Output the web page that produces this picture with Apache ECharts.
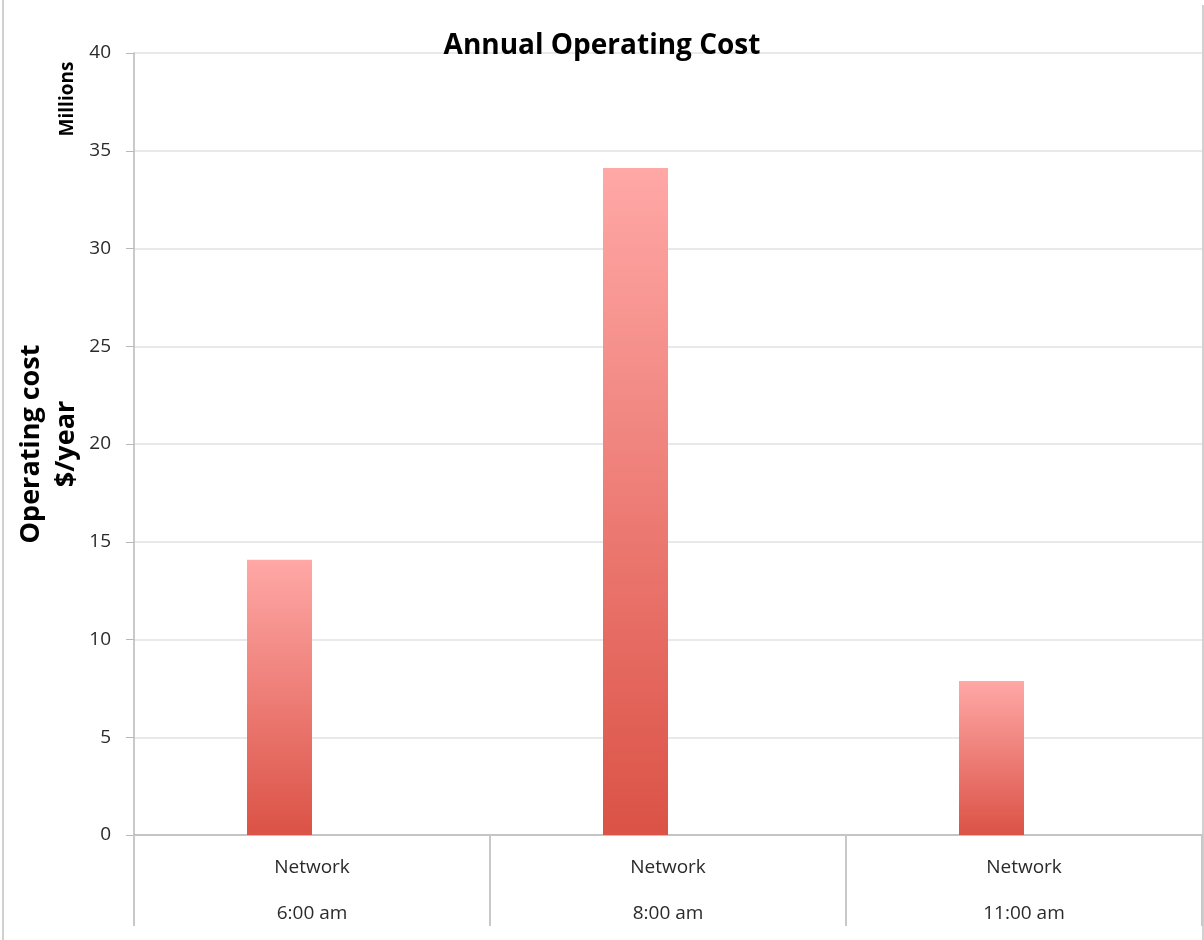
<!DOCTYPE html>
<html>
<head>
<meta charset="utf-8">
<script src="https://cdn.jsdelivr.net/npm/echarts@6/dist/echarts.min.js"></script>
<style>html,body{margin:0;padding:0;background:#fff}#c{width:1204px;height:940px}</style>
</head>
<body>
<div id="c"></div>
<script>
const categories = ['Network\n6:00 am', 'Network\n8:00 am', 'Network\n11:00 am'];
const operatingCost = [14.08, 34.12, 7.88];   // millions $/year
const placeholder = ['-', '-', '-'];            // empty second slot
const yTicks = { min: 0, max: 40, interval: 5 };

const FONT = '"Open Sans", "Liberation Sans", sans-serif';
const chart = echarts.init(document.getElementById('c'), null, { renderer: 'canvas' });
chart.setOption({
  animation: false,
  backgroundColor: '#ffffff',
  title: {
    text: 'Annual Operating Cost',
    left: 'center', top: 27,
    textStyle: { fontFamily: FONT, fontSize: 28, fontWeight: 'bold', color: '#000' }
  },
  grid: { left: 134, right: 2, top: 53, bottom: 105, containLabel: false, outerBoundsMode: 'none' },
  xAxis: {
    type: 'category',
    data: categories,
    axisLine: { lineStyle: { color: '#b8b8b8', width: 1.5 } },
    axisTick: { show: true, length: 91, alignWithLabel: false, lineStyle: { color: '#c8c8c8', width: 2 } },
    axisLabel: { fontFamily: FONT, fontSize: 19, color: '#2a2a2a', lineHeight: 46, margin: 10 }
  },
  yAxis: {
    type: 'value',
    min: yTicks.min, max: yTicks.max, interval: yTicks.interval,
    name: 'Operating cost\n$/year',
    nameLocation: 'middle', nameRotate: 90, nameGap: 50, nameMoveOverlap: false,
    nameTextStyle: { fontFamily: FONT, fontSize: 27, fontWeight: 'bold', color: '#000', lineHeight: 35 },
    axisLine: { show: true, lineStyle: { color: '#b8b8b8', width: 1.5 } },
    axisTick: { show: true, length: 8, lineStyle: { color: '#b8b8b8' } },
    axisLabel: { fontFamily: FONT, fontSize: 19, color: '#2a2a2a', margin: 23 },
    splitLine: { lineStyle: { color: '#e2e2e2', width: 1.5 } }
  },
  series: [
    {
      type: 'bar', data: operatingCost, barWidth: 65, barGap: '0%',
      itemStyle: {
        color: new echarts.graphic.LinearGradient(0, 0, 0, 1, [
          { offset: 0, color: '#ffa8a6' },
          { offset: 1, color: '#db5246' }
        ])
      }
    },
    { type: 'bar', data: placeholder, barWidth: 65, barGap: '0%' }
  ],
  graphic: [
    { type: 'text', x: 68, y: 99, rotation: Math.PI / 2,
      style: { text: 'Millions', fontFamily: FONT, fontSize: 19, fontWeight: 'bold', fill: '#000', align: 'center', verticalAlign: 'middle' } },
    { type: 'line', shape: { x1: 3, y1: 0, x2: 3, y2: 940 }, style: { stroke: '#d0d0d0', lineWidth: 2 } },
    { type: 'line', shape: { x1: 1203, y1: 5, x2: 1203, y2: 940 }, style: { stroke: '#d0d0d0', lineWidth: 2 } }
  ]
});
</script>
</body>
</html>
